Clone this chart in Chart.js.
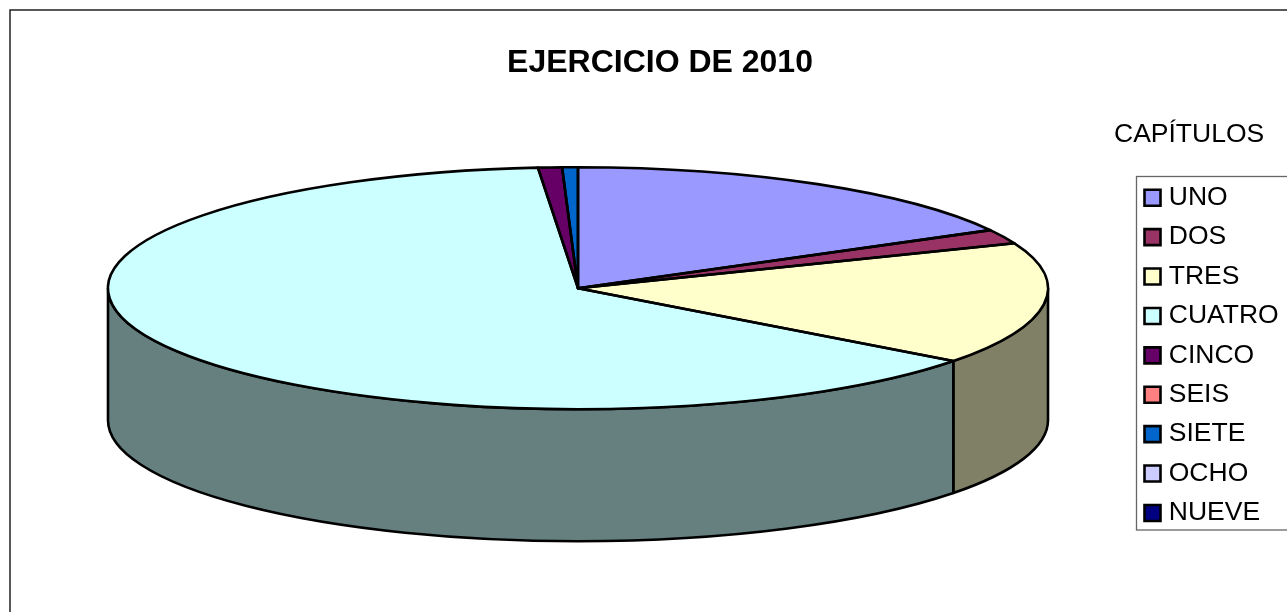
<!DOCTYPE html>
<html lang="es">
<head>
  <meta charset="UTF-8">
  <title>EJERCICIO DE 2010</title>
  <script src="https://cdn.jsdelivr.net/npm/chart.js"></script>
  <style>
    html, body { margin: 0; padding: 0; background: #fff; overflow: hidden; }
    canvas { display: block; }
  </style>
</head>
<body>
  <canvas id="pieChart" width="1287" height="612"></canvas>

  <script>
    const chartTitle = 'EJERCICIO DE 2010';
    const legendTitle = 'CAPÍTULOS';
    const categories = ['UNO', 'DOS', 'TRES', 'CUATRO', 'CINCO', 'SEIS', 'SIETE', 'OCHO', 'NUEVE'];
    const values = [17.03, 1.92, 16.33, 63.36, 0.82, 0, 0.54, 0, 0];
    const topColors = ['#9999FF', '#993366', '#FFFFCC', '#CCFFFF', '#660066', '#FF8080', '#0066CC', '#CCCCFF', '#000080'];
    const sideColors = ['#4C4C80', '#4C1933', '#808066', '#668080', '#330033', '#804040', '#003366', '#666680', '#000040'];

    const squash = 121 / 470;  // tilt of the disc
    const depth = 132;         // height of the side wall
    const outline = 2.6;

    Chart.defaults.font.family = "'Liberation Sans', Arial, sans-serif";
    Chart.defaults.color = '#000';

    // draws the flat pie as a tilted disc with a side wall
    const tiltPlugin = {
      id: 'tilt',
      beforeDraw(chart) {
        const ctx = chart.ctx;
        ctx.save();
        ctx.fillStyle = '#fff';
        ctx.fillRect(0, 0, chart.width, chart.height);
        ctx.strokeStyle = '#222';
        ctx.lineWidth = 1.5;
        ctx.strokeRect(10, 10, 1500, 900);
        ctx.strokeStyle = '#666';
        ctx.lineWidth = 1.3;
        ctx.strokeRect(1136.5, 176.5, 300, 353.5);
        ctx.fillStyle = '#000';
        ctx.font = "26.5px 'Liberation Sans', Arial, sans-serif";
        ctx.textBaseline = 'middle';
        ctx.fillText(legendTitle, 1114, 134.5);
        ctx.restore();
      },
      afterLayout(chart) {
        chart.titleBlock.left += 82;
        chart.titleBlock.right += 82;
        const legend = chart.legend;
        legend.left = 1136.6;
        legend.right = 1287;
        legend.top = 171.6;
        legend.bottom = 540;
      },
      beforeDatasetsDraw(chart) {
        const ctx = chart.ctx;
        const arcs = chart.getDatasetMeta(0).data;
        const cx = arcs[0].x, cy = arcs[0].y, rx = arcs[0].outerRadius, ry = rx * squash;
        ctx.save();
        ctx.strokeStyle = '#000';
        ctx.lineWidth = outline;
        ctx.lineJoin = 'round';
        arcs.forEach((arc, i) => {
          const from = Math.max(arc.startAngle, 0);
          const to = Math.min(arc.endAngle, Math.PI);
          if (to <= from) return;
          ctx.beginPath();
          ctx.ellipse(cx, cy, rx, ry, 0, from, to);
          ctx.ellipse(cx, cy + depth, rx, ry, 0, to, from, true);
          ctx.closePath();
          ctx.fillStyle = sideColors[i];
          ctx.fill();
          ctx.stroke();
        });
        ctx.restore();
        ctx.save();
        ctx.translate(cx, cy);
        ctx.scale(1, squash);
        ctx.translate(-cx, -cy);
      },
      afterDatasetsDraw(chart) {
        const ctx = chart.ctx;
        ctx.restore();
        const arcs = chart.getDatasetMeta(0).data;
        ctx.save();
        ctx.strokeStyle = '#000';
        ctx.lineWidth = outline;
        ctx.lineJoin = 'round';
        arcs.forEach(arc => {
          if (arc.endAngle - arc.startAngle <= 0) return;
          const ry = arc.outerRadius * squash;
          ctx.beginPath();
          ctx.moveTo(arc.x, arc.y);
          ctx.ellipse(arc.x, arc.y, arc.outerRadius, ry, 0, arc.startAngle, arc.endAngle);
          ctx.closePath();
          ctx.stroke();
        });
        ctx.restore();
      }
    };

    new Chart(document.getElementById('pieChart'), {
      type: 'pie',
      data: {
        labels: categories,
        datasets: [{
          data: values,
          backgroundColor: topColors,
          borderWidth: 0,
          clip: false
        }]
      },
      options: {
        responsive: false,
        animation: false,
        events: [],
        radius: 470,
        layout: { padding: { right: 131, bottom: 118 } },
        plugins: {
          tooltip: { enabled: false },
          title: {
            display: true,
            text: chartTitle,
            font: { size: 32, weight: 'bold' },
            padding: { top: 44, bottom: 0 }
          },
          legend: {
            position: 'chartArea',
            align: 'start',
            labels: {
              usePointStyle: true,
              boxWidth: 6,
              boxHeight: 16,
              padding: 12.9,
              font: { size: 26.5 },
              generateLabels: chart => chart.data.labels.map((text, i) => ({
                text,
                fillStyle: topColors[i],
                strokeStyle: '#000',
                lineWidth: 2.6,
                pointStyle: 'rect',
                hidden: false,
                index: i
              }))
            }
          }
        }
      },
      plugins: [tiltPlugin]
    });
  </script>
</body>
</html>
